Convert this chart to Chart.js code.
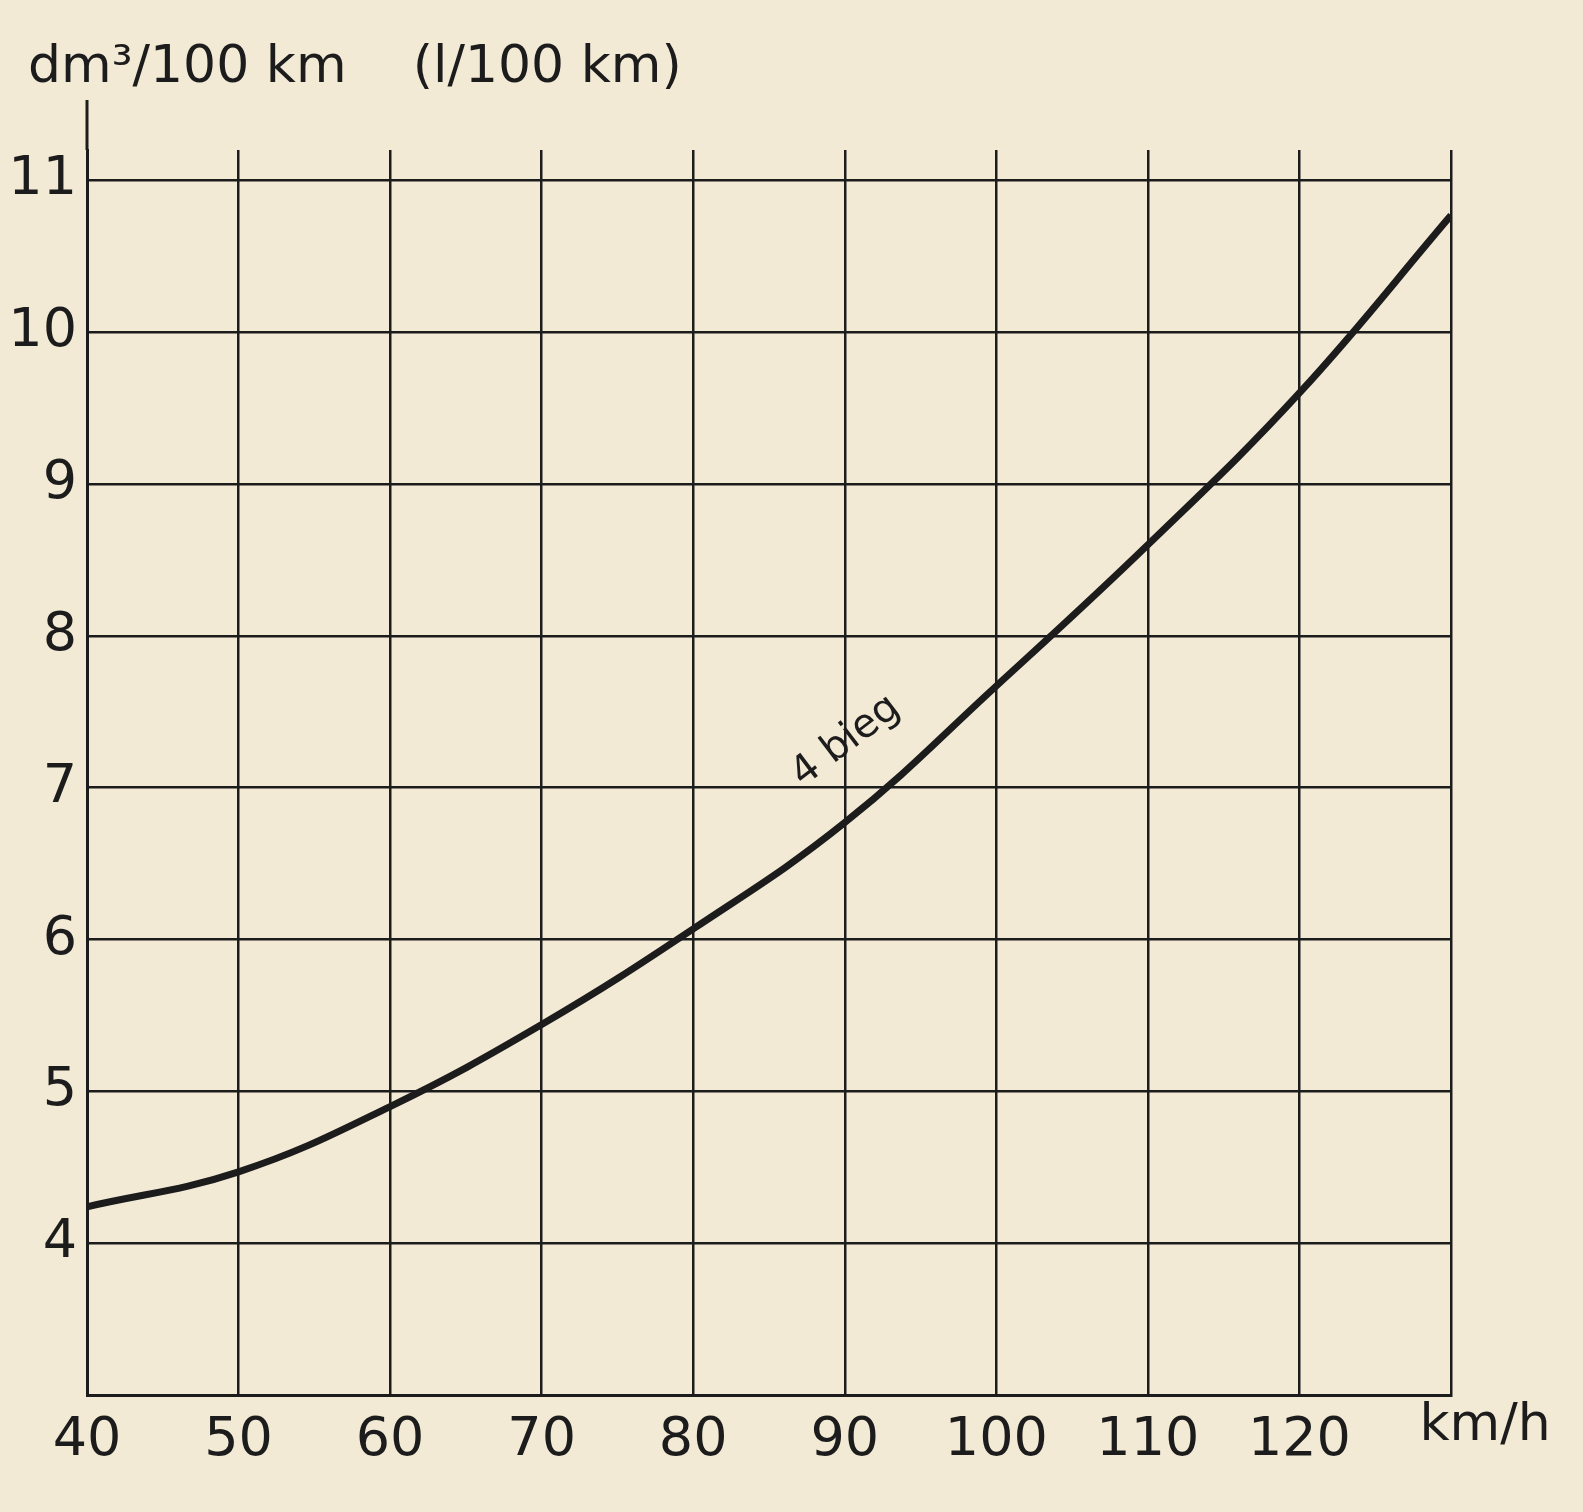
<!DOCTYPE html>
<html>
<head>
<meta charset="utf-8">
<style>
  html, body { margin: 0; padding: 0; background: #f3ead6; overflow: hidden; }
  #wrap { width: 1583px; height: 1512px; }
</style>
<script src="https://cdn.jsdelivr.net/npm/chart.js@4/dist/chart.umd.min.js"></script>
</head>
<body>
<div id="wrap"><canvas id="chart"></canvas></div>
<script>
// speed (km/h) and fuel use (l/100 km)
const speeds = [40, 50, 60, 70, 80, 90, 100, 110, 120, 130];
const consumption = [4.24, 4.47, 4.9, 5.44, 6.07, 6.77, 7.67, 8.6, 9.6, 10.77];
const yTicks = [4, 5, 6, 7, 8, 9, 10, 11];
const xTicks = [40, 50, 60, 70, 80, 90, 100, 110, 120, 130];

const ink = '#1c1c1c';
const font = { family: 'DejaVu Sans', size: 54 };

// extra text drawn on the canvas: unit title, curve label, km/h
const extras = {
    id: 'extras',
    afterDraw(chart) {
        const c = chart.ctx;
        const area = chart.chartArea;
        c.save();
        c.fillStyle = ink;
        c.strokeStyle = ink;
        c.lineWidth = 3;
        // axis line going above the grid
        c.beginPath();
        c.moveTo(area.left, 100);
        c.lineTo(area.left, area.top);
        c.stroke();
        c.font = '52px "DejaVu Sans"';
        c.textBaseline = 'alphabetic';
        c.fillText('dm³/100 km    (l/100 km)', 28, 82);
        c.textAlign = 'center';
        c.fillText('km/h', 1485, 1440);
        // curve label
        const x = chart.scales.x.getPixelForValue(90.5);
        const y = chart.scales.y.getPixelForValue(7.25);
        c.translate(x, y);
        c.rotate(-0.65);
        c.font = '40px "DejaVu Sans"';
        c.fillText('4 bieg', 0, 0);
        c.restore();
    }
};

new Chart(document.getElementById('chart'), {
    type: 'line',
    data: {
        labels: speeds,
        datasets: [{
            data: speeds.map((s, i) => ({ x: s, y: consumption[i] })),
            borderColor: ink,
            borderWidth: 7,
            pointRadius: 0,
            tension: 0.4
        }]
    },
    plugins: [extras],
    options: {
        responsive: true,
        maintainAspectRatio: false,
        animation: false,
        layout: { padding: { top: 150, right: 132, left: 0, bottom: 0 } },
        plugins: { legend: { display: false }, tooltip: { enabled: false } },
        scales: {
            x: {
                type: 'linear',
                min: 40,
                max: 130,
                afterBuildTicks: axis => { axis.ticks = xTicks.map(v => ({ value: v })); },
                afterFit: axis => { axis.height = 117; },
                grid: { color: ink, lineWidth: 2.5, drawTicks: false },
                border: { color: ink, width: 3 },
                ticks: {
                    color: ink,
                    font: font,
                    padding: 14,
                    maxRotation: 0,
                    callback: v => (v === 130 ? '' : v)
                }
            },
            y: {
                min: 3,
                max: 11.2,
                afterBuildTicks: axis => { axis.ticks = yTicks.map(v => ({ value: v })); },
                afterFit: axis => { axis.width = 87; },
                grid: { color: ink, lineWidth: 2.5, drawTicks: false },
                border: { color: ink, width: 3 },
                ticks: { color: ink, font: font, padding: 10 }
            }
        }
    }
});
</script>
</body>
</html>
